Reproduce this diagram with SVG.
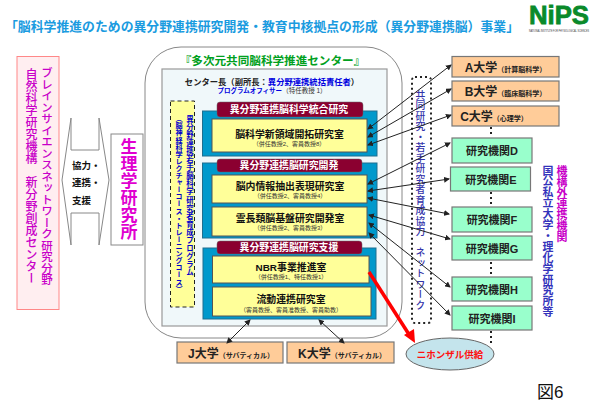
<svg xmlns="http://www.w3.org/2000/svg" width="595" height="405" viewBox="0 0 595 405">
<defs>
<marker id="ah" markerWidth="7" markerHeight="6" refX="5" refY="3" orient="auto-start-reverse" markerUnits="userSpaceOnUse"><path d="M0 0L6 3L0 6Z" fill="#222"/></marker>
</defs>
<style>
text{font-family:"Liberation Sans","Noto Sans CJK JP",sans-serif}
.v{writing-mode:vertical-rl;text-orientation:upright}
.t{font-weight:700;font-size:9.9px;text-anchor:middle;fill:#fff}
.m{font-size:9.9px;text-anchor:middle;fill:#111;font-weight:700}
.s{font-size:6px;text-anchor:middle;fill:#333}
.bb{fill:#0099cc;stroke:#1f6f8f;stroke-width:1}
.yb{fill:#ffff99;stroke:#555;stroke-width:1}
.rb{fill:#8b0030;stroke:#666;stroke-width:.5}
.or{fill:#ffcc99;stroke:#777;stroke-width:1.2}
.gr{fill:#99ffcc;stroke:#777;stroke-width:1.2}
.u{font-size:12px;font-weight:700;fill:#222;text-anchor:middle}
.sm{font-size:7px}
.g{font-size:11px;font-weight:700;fill:#222;text-anchor:middle}
.c line{stroke:#222;stroke-width:1;marker-start:url(#ah);marker-end:url(#ah)}
.d{fill:none;stroke:#222;stroke-width:2;stroke-dasharray:2 3}
.k{font-size:9.5px;font-weight:700;fill:#111}
</style>
<rect width="595" height="405" fill="#fff"/>
<text id="title" x="5" y="31" font-size="13" font-weight="700" fill="#1a9be0" textLength="514" lengthAdjust="spacingAndGlyphs">「脳科学推進のための異分野連携研究開発・教育中核拠点の形成（異分野連携脳）事業」</text>
<g id="logo"><text x="529" y="24" font-size="26" font-weight="700" fill="#0a8a2a" stroke="#0a8a2a" stroke-width=".8" textLength="60" lengthAdjust="spacingAndGlyphs">NiPS</text>
<text x="529" y="32" font-size="2.600" fill="#333" textLength="60" lengthAdjust="spacingAndGlyphs">NATIONAL INSTITUTE FOR PHYSIOLOGICAL SCIENCES</text></g>
<g id="brain-network"><rect x="17" y="56.500" width="42" height="253" fill="#ffeef0" stroke="#ff8888" stroke-width="1"/>
<text class="v" x="46" y="67" font-size="11.500" font-weight="500" fill="#c800c8">ブレインサイエンスネットワーク研究分野</text>
<text class="v" x="30" y="68" font-size="12" font-weight="500" fill="#c800c8">自然科学研究機構　新分野創成センター</text></g>
<g id="arrow"><path d="M71 118L62 180L71 245V213H99V245L109 180L99 118V150H71Z" fill="#fff" stroke="#888" stroke-width="1"/>
<text class="k" x="72" y="169">協力・</text><text class="k" x="72" y="186">連携・</text><text class="k" x="72" y="204">支援</text></g>
<g id="nips"><rect x="111" y="134" width="32" height="111" fill="#fff" stroke="#888" stroke-width="1"/>
<text class="v" x="127" y="138" font-size="17" font-weight="700" fill="#e000d0">生理学研究所</text></g>
<g id="center"><rect x="145" y="47" width="257" height="291" rx="36" fill="#fff" stroke="#888" stroke-width="1"/>
<text x="272.500" y="65" font-size="11.600" font-weight="700" fill="#00a020" text-anchor="middle">『多次元共同脳科学推進センター』</text>
<rect x="162" y="69" width="225" height="257" fill="#f0f8fa" stroke="#999" stroke-width="1.2"/>
<text x="272" y="85" font-size="8.300" font-weight="700" text-anchor="middle" fill="#222">センター長（副所長：<tspan fill="#0000e0">異分野連携統括責任者</tspan>）</text>
<text x="272" y="93" font-size="6.500" font-weight="700" text-anchor="middle" fill="#0000e0">プログラムオフィサー<tspan fill="#333" font-weight="400">（特任教授 1）</tspan></text>
</g>
<g id="program"><rect x="170.500" y="101" width="24" height="206" fill="#ffff99" stroke="#222" stroke-width="1" stroke-dasharray="4 3"/>
<text class="v" x="189" y="115" font-size="7.500" font-weight="700" fill="#0000cc" letter-spacing=".6">異分野連携若手脳科学研究者育成プログラム</text>
<text class="v" x="178" y="115" font-size="7.100" font-weight="700" fill="#0000cc">（脳神経科学レクチャーコース・トレーニングコース）</text></g>
<g id="s1"><rect class="bb" x="202.500" y="111" width="174.500" height="45"/><rect class="rb" x="217" y="102" width="146" height="15" rx="3"/><text class="t" x="289" y="113">異分野連携脳科学統合研究</text>
<rect class="yb" x="212" y="119" width="155" height="33"/><text class="m" x="289.500" y="138">脳科学新領域開拓研究室</text><text class="s" x="289" y="146">（併任教授2、客員教授8）</text></g>
<g id="s2"><rect class="bb" x="202.500" y="163" width="174.500" height="75"/><rect class="rb" x="217" y="159" width="145" height="13" rx="3"/><text class="t" x="289" y="169">異分野連携脳研究開発</text>
<rect class="yb" x="212" y="175" width="155" height="28"/><text class="m" x="290" y="190">脳内情報抽出表現研究室</text><text class="s" x="290" y="198">（併任教授2、客員教授4）</text>
<rect class="yb" x="212" y="207" width="155" height="29"/><text class="m" x="290" y="222">霊長類脳基盤研究開発室</text><text class="s" x="290" y="230">（併任教授2、客員教授3）</text></g>
<g id="s3"><rect class="bb" x="203" y="248" width="173" height="71"/><rect class="rb" x="217" y="241" width="145" height="13" rx="3"/><text class="t" x="289" y="251">異分野連携脳研究支援</text>
<rect class="yb" x="212.500" y="256" width="156.500" height="27"/><text class="m" x="291" y="271">NBR事業推進室</text><text class="s" x="291" y="279">（併任教授1、特任教授1）</text>
<rect class="yb" x="212.500" y="287" width="158.500" height="29"/><text class="m" x="291" y="303">流動連携研究室</text><text class="s" x="291" y="312">（客員教授、客員准教授、客員助教）</text></g>
<g id="network"><rect class="d" x="412" y="77" width="19" height="246" rx="3"/>
<text class="v" x="420" y="90" font-size="9.800" font-weight="500" fill="#3333aa" letter-spacing=".7">共同研究・若手研究者育成協力　ネットワーク</text></g>
<g id="ua"><rect class="or" x="452" y="56.500" width="107" height="20.500"/><text class="u" x="505.500" y="72">A大学<tspan class="sm">（計算脳科学）</tspan></text></g>
<g id="ub"><rect class="or" x="452" y="81" width="107" height="20"/><text class="u" x="505.500" y="96">B大学<tspan class="sm">（臨床脳科学）</tspan></text></g>
<g id="uc"><rect class="or" x="452" y="106" width="107" height="20"/><text class="u" x="494" y="121">C大学<tspan class="sm">（心理学）</tspan></text></g>
<g id="id"><rect class="gr" x="452" y="138" width="80" height="25"/><text class="g" x="492" y="155">研究機関D</text></g>
<g id="ie"><rect class="gr" x="450.500" y="167" width="80" height="24"/><text class="g" x="491" y="184">研究機関E</text></g>
<g id="if"><rect class="gr" x="452" y="207" width="80" height="25"/><text class="g" x="492" y="224">研究機関F</text></g>
<g id="ig"><rect class="gr" x="452" y="236" width="80" height="24"/><text class="g" x="492" y="253">研究機関G</text></g>
<g id="ih"><rect class="gr" x="452" y="277" width="80" height="24"/><text class="g" x="492" y="294">研究機関H</text></g>
<g id="ii"><rect class="gr" x="452" y="306" width="80" height="24"/><text class="g" x="492" y="323">研究機関I</text></g>
<g id="uj"><rect class="or" x="177" y="342" width="106" height="21"/><text class="u" x="231" y="358">J大学<tspan class="sm">（サバティカル）</tspan></text></g>
<g id="uk"><rect class="or" x="287" y="342" width="107" height="21"/><text class="u" x="342" y="358">K大学<tspan class="sm">（サバティカル）</tspan></text></g>
<g id="monkey"><ellipse cx="450" cy="354" rx="44" ry="16" fill="#c4e4ec" stroke="#666" stroke-width="1"/><text x="450" y="358" font-size="9.500" font-weight="700" fill="#ff1010" text-anchor="middle">ニホンザル供給</text></g>
<g id="side"><text class="v" x="547" y="165" font-size="10.900" font-weight="700" fill="#3333bb">国公私立大学・理化学研究所等</text>
<text class="v" x="561" y="165" font-size="11" font-weight="700" fill="#c800c8">機構外連携機関</text></g>
<g id="fig"><text x="537" y="398" font-size="17" fill="#111">図6</text></g>
<g id="connectors" class="c">
<line x1="368" y1="129" x2="451" y2="65"/><line x1="368" y1="137" x2="451" y2="89"/><line x1="368" y1="145" x2="451" y2="115"/>
<line x1="368" y1="184" x2="450" y2="143"/><line x1="368" y1="191" x2="449" y2="179"/><line x1="368" y1="198" x2="449" y2="214"/>
<line x1="369" y1="215" x2="450" y2="239"/><line x1="369" y1="223" x2="450" y2="287"/><line x1="369" y1="233" x2="450" y2="315"/>
<line x1="250" y1="320" x2="227" y2="343"/><line x1="319" y1="320" x2="344" y2="343"/>
<path d="M491 127V137M491 192V206M491 262V276M491 331V346" fill="none" stroke="#222" stroke-width="2" stroke-dasharray="2 3"/>
<path d="M369 272L410 336" stroke="#ff0000" stroke-width="3.500" fill="none"/><path d="M404 335L415 343L414 329Z" fill="#ff0000"/>
</g>
</svg>
